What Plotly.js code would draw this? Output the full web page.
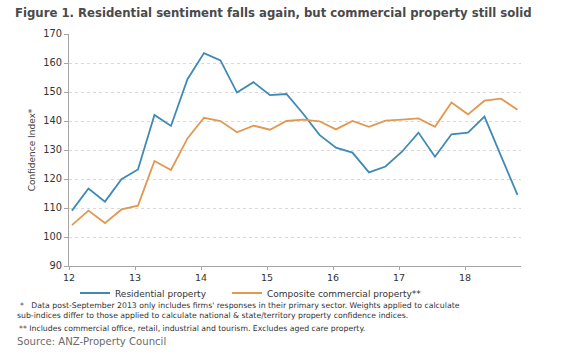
<!DOCTYPE html>
<html>
<head>
<meta charset="utf-8">
<script src="https://cdn.plot.ly/plotly-3.0.1.min.js"></script>
<style>
  html, body { margin: 0; padding: 0; background: #ffffff; }
  #chart { width: 580px; height: 352px; }
</style>
</head>
<body>
<div id="chart"></div>
<script>
// Quarterly survey periods (2012 Q1 .. 2018 Q4)
const quarters = [
  '2012Q1','2012Q2','2012Q3','2012Q4',
  '2013Q1','2013Q2','2013Q3','2013Q4',
  '2014Q1','2014Q2','2014Q3','2014Q4',
  '2015Q1','2015Q2','2015Q3','2015Q4',
  '2016Q1','2016Q2','2016Q3','2016Q4',
  '2017Q1','2017Q2','2017Q3','2017Q4',
  '2018Q1','2018Q2','2018Q3','2018Q4'
];

// Residential property confidence index
const residential = [
  109.1, 116.7, 112.2, 119.9,
  123.3, 142.1, 138.3, 154.4,
  163.4, 160.9, 149.8, 153.4,
  148.9, 149.3, 142.6, 135.2,
  130.8, 129.1, 122.3, 124.3,
  129.4, 136.0, 127.7, 135.4,
  136.0, 141.5, 128.0, 114.5
];

// Composite commercial property confidence index
const commercial = [
  104.1, 109.1, 104.8, 109.5,
  110.8, 126.2, 123.1, 134.0,
  141.1, 140.0, 136.1, 138.4,
  137.0, 140.0, 140.5, 139.9,
  137.1, 140.0, 138.0, 140.1,
  140.5, 140.9, 138.0, 146.4,
  142.3, 147.0, 147.7, 143.9
];

const seriesNames = ['Residential property', 'Composite commercial property**'];
const yTicks = [90, 100, 110, 120, 130, 140, 150, 160, 170];
const xTickVals = [12, 13, 14, 15, 16, 17, 18];
const xTickText = ['12', '13', '14', '15', '16', '17', '18'];

// convert quarter label to decimal year (two-digit), points sit just after the year tick
function qToX(q) {
  const yy = parseInt(q.slice(2, 4), 10);
  const qq = parseInt(q.slice(5), 10);
  return yy + (qq - 1) / 4 + 0.045;
}
const xs = quarters.map(qToX);

const FONT = 'DejaVu Sans, Verdana, sans-serif';

const traces = [
  {
    x: xs, y: residential, name: seriesNames[0],
    type: 'scatter', mode: 'lines',
    line: { color: '#3f8ab5', width: 1.8 },
    legend: 'legend'
  },
  {
    x: xs, y: commercial, name: seriesNames[1],
    type: 'scatter', mode: 'lines',
    line: { color: '#e1984f', width: 1.8 },
    legend: 'legend2'
  }
];

// pixel helpers for annotation placement (plot area: x 69..521, y 34..266)
const PL = 69, PW = 452, PT = 34, PH = 232;
const px = p => (p - PL) / PW;
const py = p => (PT + PH - p) / PH;

const noteFont = { family: FONT, size: 7.75, color: '#333333' };
const legendFont = { family: FONT, size: 9, color: '#333333' };

const layout = {
  width: 580, height: 352,
  margin: { l: PL, r: 580 - PL - PW, t: PT, b: 352 - PT - PH },
  paper_bgcolor: '#ffffff', plot_bgcolor: '#ffffff',
  font: { family: FONT, size: 9.5, color: '#333333' },
  title: {
    text: '<b>Figure 1. Residential sentiment falls again, but commercial property still solid</b>',
    font: { family: FONT, size: 11.7, color: '#4a4a4a' },
    x: 15 / 580, xanchor: 'left', xref: 'container',
    y: 1 - 12.5 / 352, yanchor: 'middle', yref: 'container'
  },
  xaxis: {
    range: [12, 12 + PW / 66],
    tickmode: 'array', tickvals: xTickVals, ticktext: xTickText,
    ticks: 'outside', ticklen: 3, tickcolor: '#a6a6a6', tickwidth: 1,
    showline: true, linecolor: '#a6a6a6', linewidth: 1,
    showgrid: false, zeroline: false,
    tickfont: { family: FONT, size: 9.5, color: '#333333' }
  },
  yaxis: {
    range: [90, 170],
    tickmode: 'array', tickvals: yTicks,
    ticks: 'outside', ticklen: 4, tickcolor: '#a6a6a6', tickwidth: 1,
    showline: true, linecolor: '#a6a6a6', linewidth: 1,
    showgrid: true, gridcolor: '#d9d9d9', gridwidth: 1, griddash: 'dot',
    zeroline: false,
    tickfont: { family: FONT, size: 9.8, color: '#333333' },
    title: { text: 'Confidence Index*', font: { family: FONT, size: 9, color: '#444444' }, standoff: 6 }
  },
  showlegend: true,
  legend: {
    orientation: 'h',
    x: px(75), xanchor: 'left',
    y: py(293), yanchor: 'middle',
    font: legendFont,
    bgcolor: 'rgba(0,0,0,0)', borderwidth: 0
  },
  legend2: {
    orientation: 'h',
    x: px(227), xanchor: 'left',
    y: py(293), yanchor: 'middle',
    font: legendFont,
    bgcolor: 'rgba(0,0,0,0)', borderwidth: 0
  },
  annotations: [
    {
      text: '*&nbsp;&nbsp;&nbsp;Data post-September 2013 only includes firms\' responses in their primary sector. Weights applied to calculate',
      xref: 'paper', yref: 'paper', x: px(18), y: py(305.7), xanchor: 'left', yanchor: 'middle',
      showarrow: false, font: noteFont
    },
    {
      text: 'sub-indices differ to those applied to calculate national &amp; state/territory property confidence indices.',
      xref: 'paper', yref: 'paper', x: px(15), y: py(315), xanchor: 'left', yanchor: 'middle',
      showarrow: false, font: noteFont
    },
    {
      text: '** Includes commercial office, retail, industrial and tourism. Excludes aged care property.',
      xref: 'paper', yref: 'paper', x: px(17), y: py(328), xanchor: 'left', yanchor: 'middle',
      showarrow: false, font: noteFont
    },
    {
      text: 'Source: ANZ-Property Council',
      xref: 'paper', yref: 'paper', x: px(15), y: py(341), xanchor: 'left', yanchor: 'middle',
      showarrow: false, font: { family: FONT, size: 10.1, color: '#6b6b6b' }
    }
  ]
};

Plotly.newPlot('chart', traces, layout, { displayModeBar: false, staticPlot: true });
</script>
</body>
</html>
